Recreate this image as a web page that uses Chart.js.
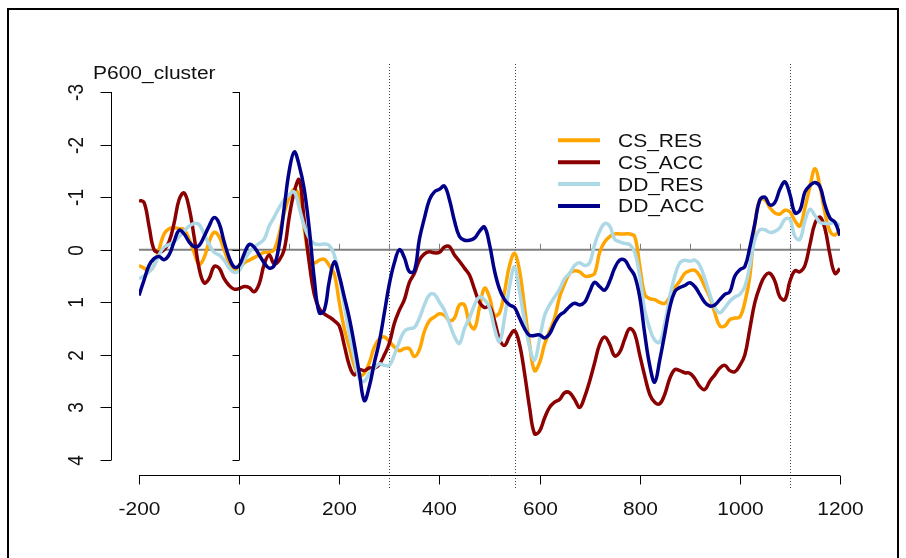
<!DOCTYPE html>
<html>
<head>
<meta charset="utf-8">
<script src="https://cdn.jsdelivr.net/npm/chart.js@4.4.1/dist/chart.umd.min.js"></script>
<style>
  html, body { margin: 0; padding: 0; background: #fff; }
  canvas { display: block; }
</style>
</head>
<body>
<canvas id="erpChart" width="906" height="558"></canvas>
<script>
// time points (ms)
const times = [
  -200, -190, -180, -170, -160, -150, -140, -130, -120, -110,
  -100, -90, -80, -70, -60, -50, -40, -30, -20, -10,
  0, 10, 20, 30, 40, 50, 60, 70, 80, 90,
  100, 110, 120, 130, 140, 150, 160, 170, 180, 190,
  200, 210, 220, 230, 240, 250, 260, 270, 280, 290,
  300, 310, 320, 330, 340, 350, 360, 370, 380, 390,
  400, 410, 420, 430, 440, 450, 460, 470, 480, 490,
  500, 510, 520, 530, 540, 550, 560, 570, 580, 590,
  600, 610, 620, 630, 640, 650, 660, 670, 680, 690,
  700, 710, 720, 730, 740, 750, 760, 770, 780, 790,
  800, 810, 820, 830, 840, 850, 860, 870, 880, 890,
  900, 910, 920, 930, 940, 950, 960, 970, 980, 990,
  1000, 1010, 1020, 1030, 1040, 1050, 1060, 1070, 1080, 1090,
  1100, 1110, 1120, 1130, 1140, 1150, 1160, 1170, 1180, 1190,
  1200
];

const csRes = [
  0.3, 0.35, 0.4, 0.3, 0.0, -0.3, -0.4, -0.42, -0.4, -0.38,
  -0.2, 0.05, 0.28, 0.15, -0.15, -0.33, -0.25, 0.0, 0.25, 0.38,
  0.36, 0.25, 0.2, 0.15, 0.1, 0.05, 0.05, 0.0, -0.3, -0.7,
  -1.0, -1.15, -1.0, -0.4, 0.15, 0.25, 0.2, 0.18, 0.3, 0.46,
  1.0, 1.5, 1.85, 2.2, 2.4, 2.35, 2.15, 1.85, 1.7, 1.66,
  1.75, 1.85, 1.92, 1.88, 1.88, 2.03, 1.9, 1.55, 1.35, 1.28,
  1.22, 1.25, 1.35, 1.3, 1.05, 1.05, 1.4, 1.5, 1.1, 0.73,
  0.9, 1.25, 1.2, 0.8, 0.3, 0.07, 0.4, 1.1, 1.8, 2.3,
  2.15, 1.8, 1.55, 1.3, 0.9, 0.65, 0.45, 0.4, 0.42, 0.5,
  0.5, 0.45, 0.05, -0.15, -0.25, -0.3, -0.3, -0.3, -0.3, -0.25,
  0.3, 0.85, 0.93, 0.95, 1.0, 1.02, 0.9, 0.72, 0.6, 0.45,
  0.4, 0.39, 0.5, 0.7, 0.9, 1.2, 1.45, 1.45, 1.33, 1.3,
  1.28, 1.0, 0.5, -0.5, -0.95, -0.95, -0.8, -0.7, -0.68, -0.75,
  -0.72, -0.55, -0.45, -0.8, -1.2, -1.54, -1.2, -0.7, -0.35, -0.28,
  -0.4
];

const csAcc = [
  -0.94, -0.9, -0.45, 0.0, 0.05, 0.0, -0.15, -0.5, -0.95, -1.08,
  -0.8, -0.25, 0.35, 0.63, 0.55, 0.32, 0.35, 0.55, 0.68, 0.75,
  0.74, 0.7, 0.72, 0.8, 0.65, 0.28, 0.1, 0.27, 0.2, 0.0,
  -0.62, -1.1, -1.33, -0.55, 0.25, 0.85, 1.12, 1.22, 1.28, 1.35,
  1.45, 1.82, 2.2, 2.38, 2.28, 2.3, 2.25, 2.25, 2.18, 2.0,
  1.78, 1.4, 1.15, 0.95, 0.62, 0.45, 0.2, 0.08, 0.04, 0.06,
  0.05, -0.05, -0.06, 0.1, 0.22, 0.35, 0.48, 0.75, 1.0, 1.1,
  1.08, 1.35, 1.7, 1.82, 1.65, 1.54, 1.8, 2.35, 3.0, 3.5,
  3.45, 3.2, 3.0, 2.9, 2.85, 2.72, 2.72, 2.85, 3.0, 2.8,
  2.5, 2.15, 1.8, 1.66, 1.8, 2.02, 1.95, 1.7, 1.5, 1.6,
  2.0, 2.4, 2.75, 2.9, 2.93, 2.75, 2.45, 2.28, 2.3, 2.34,
  2.35, 2.45, 2.6, 2.66, 2.5, 2.38, 2.25, 2.2, 2.3, 2.32,
  2.2, 2.0, 1.5, 1.0, 0.7, 0.5, 0.45, 0.6, 0.9, 0.95,
  0.6, 0.4, 0.42, 0.3, -0.1, -0.5, -0.62, -0.4, 0.1, 0.45,
  0.36
];

const ddRes = [
  0.55, 0.5, 0.42, 0.3, 0.1, -0.05, -0.1, -0.15, -0.25, -0.35,
  -0.45, -0.5, -0.48, -0.3, -0.1, 0.05, 0.1, 0.2, 0.35, 0.43,
  0.4, 0.2, 0.05, -0.05, -0.12, -0.2, -0.45, -0.62, -0.8, -0.95,
  -1.05, -1.1, -0.8, -0.45, -0.22, -0.12, -0.1, -0.11, -0.08, 0.1,
  0.5, 1.05, 1.6, 2.05, 2.45, 2.5, 2.35, 2.25, 2.17, 2.2,
  2.2, 2.0, 1.75, 1.55, 1.5, 1.48, 1.3, 1.05, 0.86, 0.85,
  1.0, 1.15, 1.4, 1.65, 1.78, 1.5, 1.3, 1.05, 0.9, 0.95,
  1.1, 1.5, 1.75, 1.3, 0.7, 0.33, 0.8, 1.35, 1.85, 2.1,
  1.7, 1.25, 1.05, 0.9, 0.75, 0.55, 0.45, 0.3, 0.25, 0.3,
  0.25, -0.1, -0.35, -0.5, -0.45, -0.2, -0.15, -0.12, -0.1, 0.05,
  0.5, 1.15, 1.5, 1.72, 1.76, 1.4, 0.9, 0.5, 0.25, 0.2,
  0.22, 0.2, 0.3, 0.55, 0.85, 1.1, 1.2, 1.1, 0.98, 0.9,
  0.85, 0.7, 0.3, -0.2, -0.38, -0.38, -0.33, -0.35, -0.42, -0.58,
  -0.58, -0.25, -0.2, -0.55, -0.77, -0.65, -0.52, -0.5, -0.5, -0.52,
  -0.45
];

const ddAcc = [
  0.87, 0.58, 0.3, 0.17, 0.13, 0.19, 0.1, -0.15, -0.37, -0.3,
  -0.15, -0.06, -0.08, -0.25, -0.45, -0.61, -0.5, -0.15, 0.15, 0.33,
  0.3, 0.08, -0.1, -0.05, 0.1, 0.25, 0.35, 0.3, -0.1, -0.8,
  -1.5, -1.86, -1.6, -1.15, -0.4, 0.55, 1.2, 1.15, 0.6, 0.23,
  0.5, 0.9, 1.3, 1.8, 2.35, 2.87, 2.6, 2.15, 1.75, 1.2,
  0.65, 0.25, 0.0, 0.15, 0.42, 0.4, -0.2, -0.6, -0.95, -1.1,
  -1.15, -1.21, -0.95, -0.55, -0.25, -0.18, -0.18, -0.22, -0.35, -0.43,
  -0.1, 0.4, 0.75, 0.95, 1.05, 1.1, 1.3, 1.5, 1.63, 1.63,
  1.62, 1.68, 1.6, 1.4, 1.25, 1.18, 1.08, 1.02, 1.05, 1.0,
  0.8, 0.62, 0.7, 0.77, 0.6, 0.35, 0.2, 0.2, 0.35, 0.5,
  0.9, 1.6, 2.2, 2.52, 2.1, 1.6, 1.1, 0.8, 0.72, 0.68,
  0.63, 0.7, 0.85, 1.0, 1.07, 1.05, 0.95, 0.85, 0.8, 0.5,
  0.38, 0.32, -0.05, -0.5, -0.95, -1.0, -0.85, -0.9, -1.15, -1.29,
  -1.05, -0.7, -0.75, -1.1, -1.22, -1.28, -1.2, -0.85, -0.6, -0.52,
  -0.27
];

const seriesNames = ['CS_RES', 'CS_ACC', 'DD_RES', 'DD_ACC'];
const seriesColors = ['#ffa500', '#8b0000', '#add8e6', '#00008b'];
const seriesValues = [csRes, csAcc, ddRes, ddAcc];

const xTicks = [-200, 0, 200, 400, 600, 800, 1000, 1200];
const yTicks = [-3, -2, -1, 0, 1, 2, 3, 4];
const zeroLineTicks = [100, 200, 300, 400, 500, 600, 700, 800, 900, 1000, 1100];
const markerTimes = [300, 550, 1100];
const plotTitle = 'P600_cluster';

// R-style pdf text looks stretched sideways, so draw text with a horizontal scale
function stretchText(ctx, str, x, y, opts) {
  ctx.save();
  ctx.translate(x, y);
  ctx.scale(opts.sx, 1);
  if (opts.rotate) ctx.rotate(-Math.PI / 2);
  ctx.font = opts.font;
  ctx.fillStyle = '#111';
  ctx.textAlign = opts.align || 'left';
  ctx.textBaseline = 'alphabetic';
  ctx.fillText(str, 0, 0);
  ctx.restore();
}

function line(ctx, x1, y1, x2, y2) {
  ctx.beginPath();
  ctx.moveTo(x1, y1);
  ctx.lineTo(x2, y2);
  ctx.stroke();
}

const erpDecor = {
  id: 'erpDecor',
  beforeDatasetsDraw(chart) {
    const ctx = chart.ctx;
    const xs = chart.scales.x;
    const ys = chart.scales.y;
    const y0 = ys.getPixelForValue(0);

    // dotted markers
    ctx.save();
    ctx.strokeStyle = '#444';
    ctx.lineWidth = 1;
    ctx.setLineDash([1, 2]);
    for (const t of markerTimes) {
      const px = Math.round(xs.getPixelForValue(t)) + 0.5;
      line(ctx, px, 64, px, 490);
    }
    ctx.restore();

    // zero line with small ticks
    ctx.save();
    ctx.strokeStyle = '#808080';
    ctx.lineWidth = 2;
    line(ctx, xs.getPixelForValue(-200), y0, xs.getPixelForValue(1200), y0);
    ctx.lineWidth = 1;
    for (const t of zeroLineTicks) {
      const px = Math.round(xs.getPixelForValue(t)) + 0.5;
      line(ctx, px, y0, px, y0 - 6);
    }
    ctx.restore();
  },
  afterDraw(chart) {
    const ctx = chart.ctx;
    const xs = chart.scales.x;
    const ys = chart.scales.y;
    const yTop = ys.getPixelForValue(-3);
    const yBot = ys.getPixelForValue(4);

    ctx.save();
    ctx.strokeStyle = '#000';

    // frame
    ctx.lineWidth = 2;
    ctx.beginPath();
    ctx.moveTo(8, 570);
    ctx.lineTo(8, 9);
    ctx.lineTo(898, 9);
    ctx.lineTo(898, 570);
    ctx.stroke();

    ctx.lineWidth = 1;
    // left axis
    const axX = 111.5;
    line(ctx, axX, yTop, axX, yBot);
    for (const v of yTicks) {
      const py = Math.round(ys.getPixelForValue(v)) + 0.5;
      line(ctx, axX - 11, py, axX, py);
      stretchText(ctx, String(v), 83, py, { sx: 1.12, rotate: true, align: 'center', font: '19px "Liberation Sans", Arial, sans-serif' });
    }

    // vertical axis at t = 0
    const x0 = Math.round(xs.getPixelForValue(0)) + 0.5;
    line(ctx, x0, yTop, x0, yBot);
    for (const v of yTicks) {
      const py = Math.round(ys.getPixelForValue(v)) + 0.5;
      line(ctx, x0 - 7, py, x0, py);
    }

    // bottom axis
    const axY = 475.5;
    line(ctx, xs.getPixelForValue(-200), axY, xs.getPixelForValue(1200), axY);
    for (const t of xTicks) {
      const px = Math.round(xs.getPixelForValue(t)) + 0.5;
      line(ctx, px, axY, px, axY + 9);
      stretchText(ctx, String(t), px, 515, { sx: 1.1, align: 'center', font: '19px "Liberation Sans", Arial, sans-serif' });
    }

    // title
    stretchText(ctx, plotTitle, 93, 79, { sx: 1.2, font: '17.5px "Liberation Sans", Arial, sans-serif' });

    // legend
    const rowY = [140.3, 162.2, 184.1, 206];
    ctx.lineWidth = 4;
    seriesNames.forEach((name, i) => {
      ctx.strokeStyle = seriesColors[i];
      line(ctx, 558, rowY[i], 600, rowY[i]);
      stretchText(ctx, name, 618, rowY[i] + 6.4, { sx: 1.2, font: '17.5px "Liberation Sans", Arial, sans-serif' });
    });
    ctx.restore();
  }
};

const datasets = seriesNames.map((name, i) => ({
  label: name,
  data: times.map((t, k) => ({ x: t, y: seriesValues[i][k] })),
  borderColor: seriesColors[i],
  borderWidth: 3.5,
  pointRadius: 0,
  tension: 0.4,
  fill: false,
  order: seriesNames.length - i
}));

new Chart(document.getElementById('erpChart'), {
  type: 'line',
  data: { datasets },
  options: {
    responsive: false,
    animation: false,
    devicePixelRatio: 1,
    layout: { padding: { left: 139, right: 66, top: 92, bottom: 98 } },
    scales: {
      x: { type: 'linear', min: -200, max: 1200, display: false },
      y: { min: -3, max: 4, reverse: true, display: false }
    },
    plugins: {
      legend: { display: false },
      tooltip: { enabled: false }
    }
  },
  plugins: [erpDecor]
});
</script>
</body>
</html>
